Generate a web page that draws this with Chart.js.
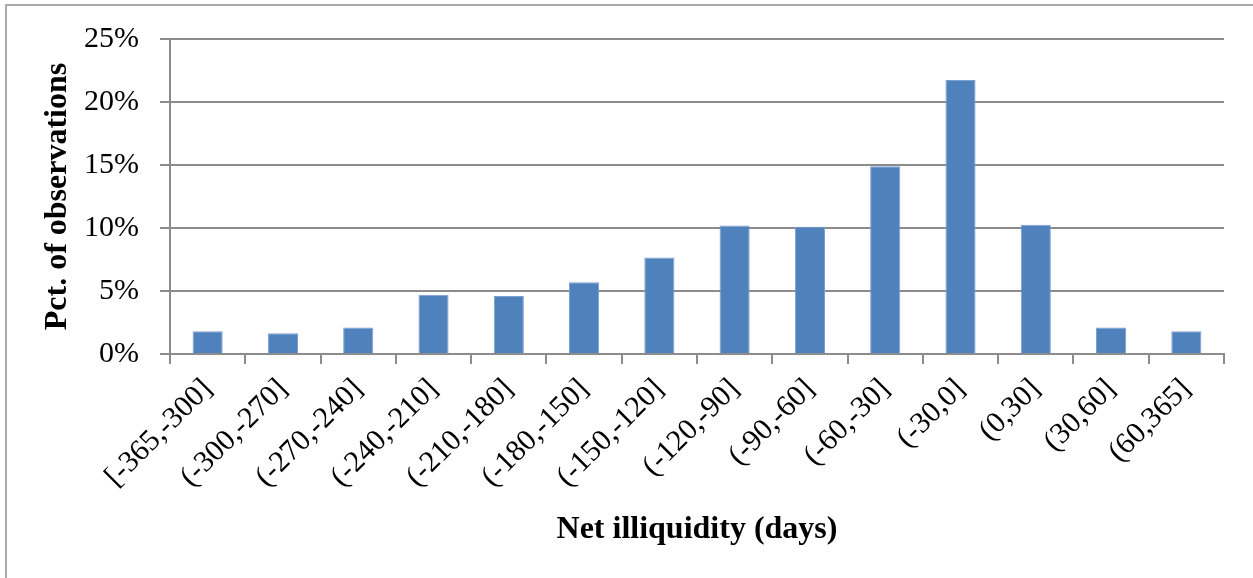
<!DOCTYPE html>
<html>
<head>
<meta charset="utf-8">
<title>Net illiquidity distribution</title>
<script src="https://cdn.jsdelivr.net/npm/chart.js@4.4.1/dist/chart.umd.min.js"></script>
<style>
  html, body { margin: 0; padding: 0; background: #ffffff; }
  #chart-wrap { position: relative; width: 1253px; height: 578px; }
</style>
</head>
<body>
<div id="chart-wrap">
  <canvas id="illiquidity-chart" width="1253" height="578"></canvas>
</div>
<script>
// Chart data
const bucketLabels = [
  '[-365,-300]', '(-300,-270]', '(-270,-240]', '(-240,-210]', '(-210,-180]',
  '(-180,-150]', '(-150,-120]', '(-120,-90]', '(-90,-60]', '(-60,-30]',
  '(-30,0]', '(0,30]', '(30,60]', '(60,365]'
];
const pctObservations = [1.8, 1.65, 2.1, 4.7, 4.6, 5.7, 7.65, 10.2, 10.1, 14.9, 21.75, 10.25, 2.1, 1.8];
const yTickValues = [0, 5, 10, 15, 20, 25];

// Styling
const serifFont = "'Liberation Serif', 'Times New Roman', serif";
const axisGray = '#8c8c8c';
const barBlue = '#4f81bd';

// ----------------------------------------------------
// Outer frame, like the box around the original figure
// ----------------------------------------------------
const framePlugin = {
  id: 'frame',
  beforeDraw(chart) {
    const ctx = chart.ctx;
    ctx.save();
    ctx.strokeStyle = '#8f8f8f';
    ctx.lineWidth = 1.5;
    ctx.beginPath();
    ctx.moveTo(6, chart.height);
    ctx.lineTo(6, 5);
    ctx.lineTo(chart.width, 5);
    ctx.stroke();
    ctx.restore();
  }
};

function renderChart() {
  const ctx = document.getElementById('illiquidity-chart').getContext('2d');

  new Chart(ctx, {
    type: 'bar',
    data: {
      labels: bucketLabels,
      datasets: [{
        label: 'Pct. of observations',
        data: pctObservations,
        backgroundColor: barBlue,
        borderColor: '#7b9fd0',
        borderWidth: 1,
        borderSkipped: 'bottom',
        categoryPercentage: 1.0,
        barPercentage: 0.4
      }]
    },
    options: {
      responsive: false,
      animation: false,
      layout: {
        padding: { left: 0, right: 29, top: 36, bottom: 0 }
      },
      plugins: {
        legend: { display: false },
        tooltip: { enabled: false }
      },
      scales: {
        x: {
          grid: {
            display: true,
            drawOnChartArea: false,
            offset: true,
            tickLength: 10,
            color: axisGray,
            lineWidth: 2
          },
          border: { display: true, color: axisGray, width: 2 },
          ticks: {
            color: '#000000',
            autoSkip: false,
            minRotation: 45,
            maxRotation: 45,
            padding: 8,
            font: { family: serifFont, size: 30 }
          },
          title: {
            display: true,
            text: 'Net illiquidity (days)',
            color: '#000000',
            font: { family: serifFont, size: 32, weight: 'bold' },
            padding: { top: 0, bottom: 29 }
          },
          afterFit(scale) {
            scale.height = 224;
          }
        },
        y: {
          min: 0,
          max: 25,
          afterBuildTicks(scale) {
            scale.ticks = yTickValues.map(v => ({ value: v }));
          },
          grid: {
            color: axisGray,
            lineWidth: 2,
            tickLength: 10
          },
          border: { display: true, color: axisGray, width: 2 },
          ticks: {
            color: '#000000',
            padding: 21,
            font: { family: serifFont, size: 30 },
            callback: function(value) {
              return value + '%';
            }
          },
          title: {
            display: true,
            text: 'Pct. of observations',
            color: '#000000',
            font: { family: serifFont, size: 32, weight: 'bold' },
            padding: { top: 39, bottom: 0 }
          },
          afterFit(scale) {
            scale.width = 170;
          }
        }
      }
    },
    plugins: [framePlugin]
  });
}

renderChart();
</script>
</body>
</html>
